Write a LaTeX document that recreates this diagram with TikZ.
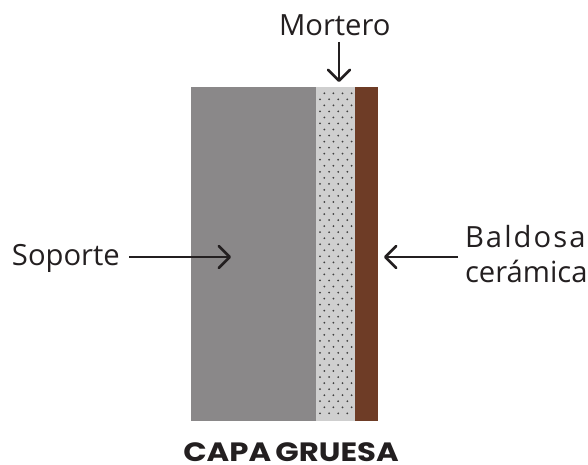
\documentclass[tikz,border=0pt]{standalone}
\usepackage{fontspec}
\setmainfont{Open Sans}
\newfontfamily\headfont{Poppins}
\newfontfamily\spacedfont[LetterSpace=7]{Open Sans}
\usetikzlibrary{arrows.meta}
\definecolor{inkc}{HTML}{231F20}
\definecolor{wallc}{HTML}{8A8889}
\definecolor{mortc}{HTML}{CFCFCF}
\definecolor{tilec}{HTML}{6E3C26}
\definecolor{dotc}{HTML}{3F3F3F}
\tikzset{
  lbl/.style={inner sep=0pt,outer sep=0pt,text=inkc,font=\fontsize{29.2}{29}\selectfont,anchor=base west},
  callout/.style={draw=inkc,line width=2.6pt,-{Straight Barb[length=11pt,width=22pt,line width=2.6pt,round]}}
}
\begin{document}
\begin{tikzpicture}[x=1pt,y=-1pt]
\useasboundingbox (0,0) rectangle (588,465);
\fill[wallc] (191,87) rectangle (316,421);
\fill[mortc] (316,87) rectangle (355,421);
\fill[tilec] (355,87) rectangle (378,421);
\foreach \r in {0,...,53}{
  \pgfmathsetmacro{\yy}{93.3+\r*6.038}
  \pgfmathsetmacro{\xo}{isodd(\r)?320:324.3}
  \foreach \c in {0,1,2,3}{
    \fill[dotc] ({\xo+\c*9.1},\yy) circle (1pt);
  }
}
\node[lbl] (mortero) at (279,36) {Mortero};
\node[lbl] (soporte) at (12,265.5) {Soporte};
\node[lbl] (baldosa) at (465,247) {\spacedfont Baldosa};
\node[lbl] (ceramica) at (465,282) {cerámica};
\node[anchor=base,inner sep=0pt,text=inkc] (titulo) at (291,461.5) {\scalebox{1.16}[1]{\headfont\bfseries\fontsize{26.5}{27}\selectfont CAPA\hspace{-2pt} GRUESA}};
\coordinate (mt) at (339,82);
\coordinate (st) at (231,257);
\coordinate (bt) at (384,257);
\coordinate (bs) at (458,257);
\coordinate (ss) at (129,257);
\coordinate (ms) at (339,42);
\draw[callout] (ms) -- (mt);
\draw[callout] (ss) -- (st);
\draw[callout] (bs) -- (bt);
\end{tikzpicture}
\end{document}
